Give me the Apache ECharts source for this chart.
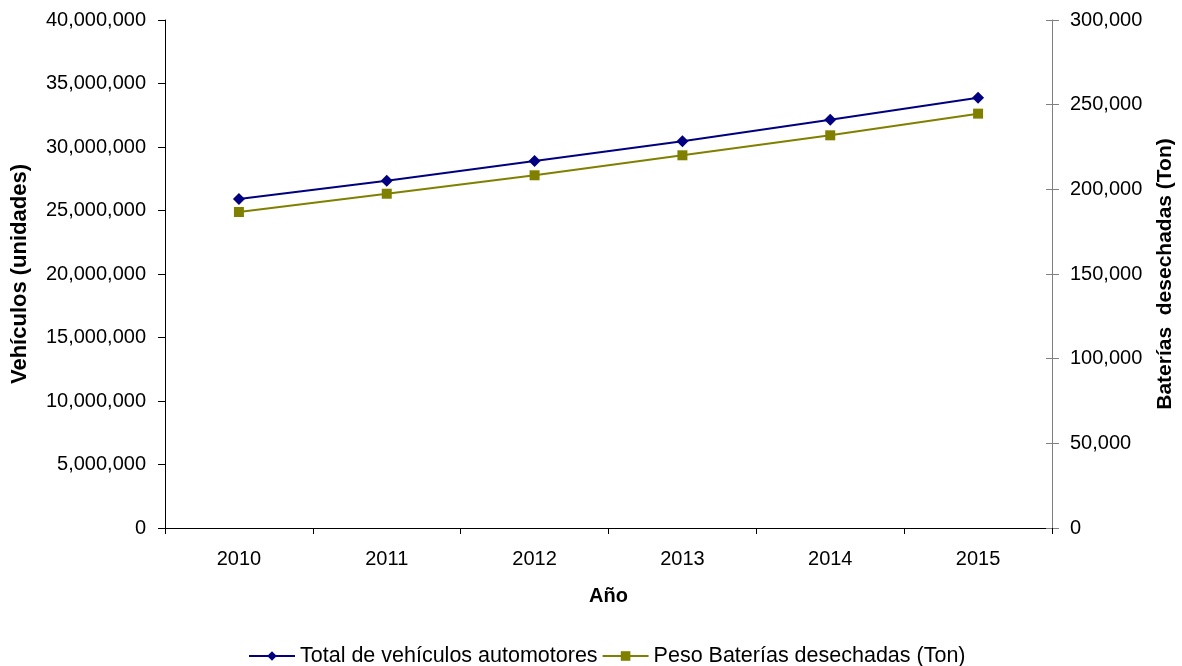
<!DOCTYPE html>
<html>
<head>
<meta charset="utf-8">
<script src="https://cdn.jsdelivr.net/npm/echarts@6/dist/echarts.min.js"></script>
<style>html,body{margin:0;padding:0;background:#fff}#c{width:1182px;height:666px}</style>
</head>
<body>
<div id="c"></div>
<script>
var years = ['2010','2011','2012','2013','2014','2015'];
var vehiculos = [25910000, 27350000, 28900000, 30450000, 32150000, 33880000];
var baterias = [186600, 197400, 208300, 220100, 231900, 244700];
var leftTicks = {min: 0, max: 40000000, interval: 5000000};
var rightTicks = {min: 0, max: 300000, interval: 50000};

var FONT = 'Liberation Sans';
function fmt(v){ return String(v).replace(/\B(?=(\d{3})+(?!\d))/g, ','); }

var chart = echarts.init(document.getElementById('c'), null, {renderer:'canvas'});
chart.setOption({
  animation: false,
  backgroundColor: '#fff',
  textStyle: {fontFamily: FONT},
  grid: {left: 165, right: 130, top: 20, bottom: 138, containLabel: false, outerBoundsMode: 'none'},
  legend: {
    top: 640, left: 243, padding: [5, 5, 5, 5],
    itemWidth: 46, itemHeight: 12, itemGap: 4,
    textStyle: {fontFamily: FONT, fontSize: 21.5, color: '#000'},
    data: ['Total de vehículos automotores', 'Peso Baterías desechadas (Ton)']
  },
  xAxis: {
    type: 'category',
    data: years,
    boundaryGap: true,
    name: 'Año',
    nameLocation: 'middle',
    nameGap: 58,
    nameTextStyle: {fontFamily: FONT, fontSize: 20, fontWeight: 'bold', color: '#000'},
    axisLine: {lineStyle: {color: '#000', width: 1}},
    axisTick: {show: true, inside: false, length: 6, lineStyle: {color: '#000'}},
    axisLabel: {fontFamily: FONT, fontSize: 20, color: '#000', margin: 21},
    splitLine: {show: false}
  },
  yAxis: [
    {
      type: 'value', position: 'left',
      min: leftTicks.min, max: leftTicks.max, interval: leftTicks.interval,
      name: 'Vehículos (unidades)',
      nameLocation: 'middle', nameGap: 134, nameRotate: 90,
      nameTextStyle: {fontFamily: FONT, fontSize: 22, fontWeight: 'bold', color: '#000'},
      axisLine: {show: true, lineStyle: {color: '#000', width: 1}},
      axisTick: {show: true, inside: false, length: 7, lineStyle: {color: '#000'}},
      axisLabel: {fontFamily: FONT, fontSize: 20, color: '#000', margin: 19, formatter: fmt},
      splitLine: {show: false}
    },
    {
      type: 'value', position: 'right',
      min: rightTicks.min, max: rightTicks.max, interval: rightTicks.interval,
      name: 'Baterías  desechadas (Ton)',
      nameLocation: 'middle', nameGap: 103, nameRotate: 90,
      nameTextStyle: {fontFamily: FONT, fontSize: 21, fontWeight: 'bold', color: '#000'},
      axisLine: {show: true, lineStyle: {color: '#808080', width: 1}},
      axisTick: {show: true, inside: false, length: 7, lineStyle: {color: '#808080'}},
      axisLabel: {fontFamily: FONT, fontSize: 20, color: '#000', margin: 18, formatter: fmt},
      splitLine: {show: false}
    },
    {
      type: 'value', position: 'right',
      min: rightTicks.min, max: rightTicks.max, interval: rightTicks.interval,
      axisLine: {show: false},
      axisTick: {show: true, inside: true, length: 6, lineStyle: {color: '#808080'}},
      axisLabel: {show: false},
      splitLine: {show: false}
    }
  ],
  series: [
    {
      name: 'Total de vehículos automotores',
      type: 'line', yAxisIndex: 0,
      data: vehiculos,
      symbol: 'diamond', symbolSize: 12,
      itemStyle: {color: '#000080'},
      lineStyle: {color: '#000080', width: 2}
    },
    {
      name: 'Peso Baterías desechadas (Ton)',
      type: 'line', yAxisIndex: 1,
      data: baterias,
      symbol: 'rect', symbolSize: 10,
      itemStyle: {color: '#808000'},
      lineStyle: {color: '#808000', width: 2}
    }
  ]
});
</script>
</body>
</html>
